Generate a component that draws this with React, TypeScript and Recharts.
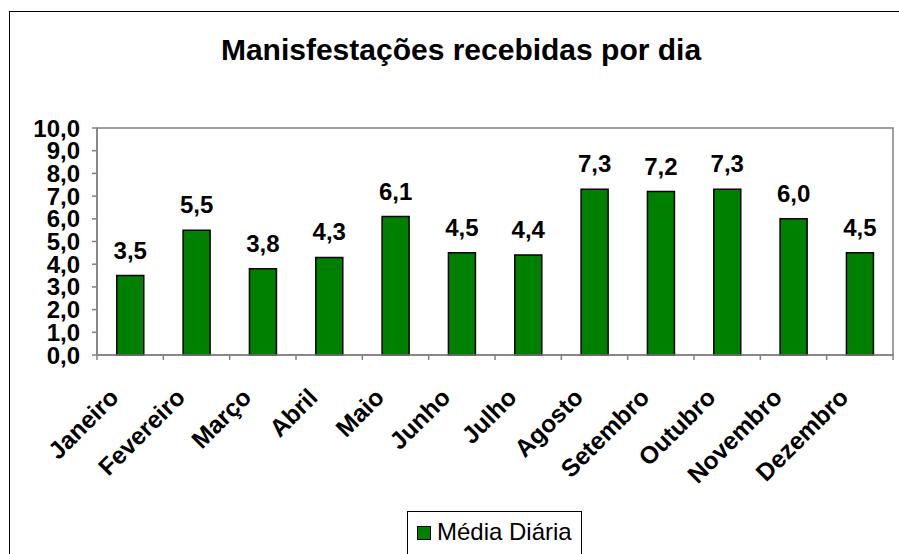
import {
  BarChart,
  Bar,
  XAxis,
  YAxis,
  LabelList,
  ReferenceArea,
} from 'recharts';

const months = [
  'Janeiro',
  'Fevereiro',
  'Março',
  'Abril',
  'Maio',
  'Junho',
  'Julho',
  'Agosto',
  'Setembro',
  'Outubro',
  'Novembro',
  'Dezembro',
];
const mediaDiaria = [3.5, 5.5, 3.8, 4.3, 6.1, 4.5, 4.4, 7.3, 7.2, 7.3, 6.0, 4.5];
const yTicks = [0, 1, 2, 3, 4, 5, 6, 7, 8, 9, 10];

const title = 'Manisfestações recebidas por dia';
const seriesName = 'Média Diária';

const FONT = '"Liberation Sans", Arial, sans-serif';
const GREEN = '#008000';
const AXIS = '#808080';

const data = months.map((m, i) => ({ name: m, value: mediaDiaria[i] }));

const comma = (v: number) => v.toFixed(1).replace('.', ',');

// month label rotated 45deg, plus the Excel-style tick marks between categories
const MonthTick = (props: any) => {
  const { x, y, payload, index, visibleTicksCount } = props;
  const band = (props.width || 796) / (visibleTicksCount || 12);
  const ax = x - 10;
  const ay = y + 44;
  const left = x - band / 2;
  const right = x + band / 2;
  return (
    <g>
      <line x1={left} y1={y} x2={left} y2={y + 5} stroke={AXIS} strokeWidth={1.5} />
      {index === (visibleTicksCount || 12) - 1 && (
        <line x1={right} y1={y} x2={right} y2={y + 5} stroke={AXIS} strokeWidth={1.5} />
      )}
      <text
        x={ax}
        y={ay}
        transform={`rotate(-45 ${ax} ${ay})`}
        textAnchor='end'
        fontFamily={FONT}
        fontWeight='bold'
        fontSize={24.5}
        fill='#000'
      >
        {payload.value}
      </text>
    </g>
  );
};

const App = () => {
  return (
    <div
      style={{
        position: 'fixed',
        left: 0,
        top: 0,
        width: 899,
        height: 554,
        overflow: 'hidden',
        background: '#fff',
        fontFamily: FONT,
      }}
    >
      {/* outer chart border, right/bottom edges fall outside the picture */}
      <div
        style={{
          position: 'absolute',
          left: 9,
          top: 11,
          width: 1000,
          height: 1000,
          borderLeft: '1px solid #000',
          borderTop: '1px solid #000',
        }}
      />
      <div
        style={{
          position: 'absolute',
          left: 9,
          top: 33,
          width: 904,
          textAlign: 'center',
          fontWeight: 'bold',
          fontSize: 30,
          lineHeight: '34px',
          color: '#000',
        }}
      >
        {title}
      </div>
      <div style={{ position: 'absolute', left: 0, top: 0 }}>
        <BarChart
          width={899}
          height={554}
          data={data}
          margin={{ top: 128, right: 6, bottom: 0, left: 0 }}
          barCategoryGap='29.8%'
        >
          <XAxis
            xAxisId='cat'
            dataKey='name'
            height={199}
            interval={0}
            tickLine={false}
            tickSize={0}
            tickMargin={0}
            axisLine={{ stroke: AXIS, strokeWidth: 1.5 }}
            tick={<MonthTick />}
          />
          <YAxis
            yAxisId='val'
            domain={[0, 10]}
            ticks={yTicks}
            interval={0}
            width={97}
            tickSize={5}
            tickMargin={12}
            tickFormatter={comma}
            tickLine={{ stroke: AXIS, strokeWidth: 1.5 }}
            axisLine={{ stroke: AXIS, strokeWidth: 1.5 }}
            tick={{
              fill: '#000',
              fontSize: 24,
              fontWeight: 'bold',
              fontFamily: FONT,
            }}
          />
          {/* plot area frame */}
          <ReferenceArea
            xAxisId='cat'
            yAxisId='val'
            y1={0}
            y2={10}
            fill='none'
            fillOpacity={0}
            stroke={AXIS}
            strokeWidth={1.5}
          />
          <Bar
            xAxisId='cat'
            yAxisId='val'
            dataKey='value'
            name={seriesName}
            fill={GREEN}
            stroke='#000'
            strokeWidth={1.5}
            isAnimationActive={false}
          >
            <LabelList
              dataKey='value'
              position='top'
              offset={17}
              formatter={(v: any) => comma(Number(v))}
              fill='#000'
              fontSize={24}
              fontWeight='bold'
              fontFamily={FONT}
            />
          </Bar>
        </BarChart>
      </div>
      {/* legend */}
      <div
        style={{
          position: 'absolute',
          left: 407,
          top: 511,
          width: 175,
          height: 60,
          border: '1px solid #000',
          boxSizing: 'border-box',
        }}
      >
        <div
          style={{
            position: 'absolute',
            left: 9,
            top: 14,
            width: 12,
            height: 12,
            background: GREEN,
            border: '1px solid #000',
          }}
        />
        <div
          style={{
            position: 'absolute',
            left: 29,
            top: 6,
            fontSize: 24,
            lineHeight: '28px',
            color: '#000',
            whiteSpace: 'nowrap',
          }}
        >
          {seriesName}
        </div>
      </div>
    </div>
  );
};

export default App;
